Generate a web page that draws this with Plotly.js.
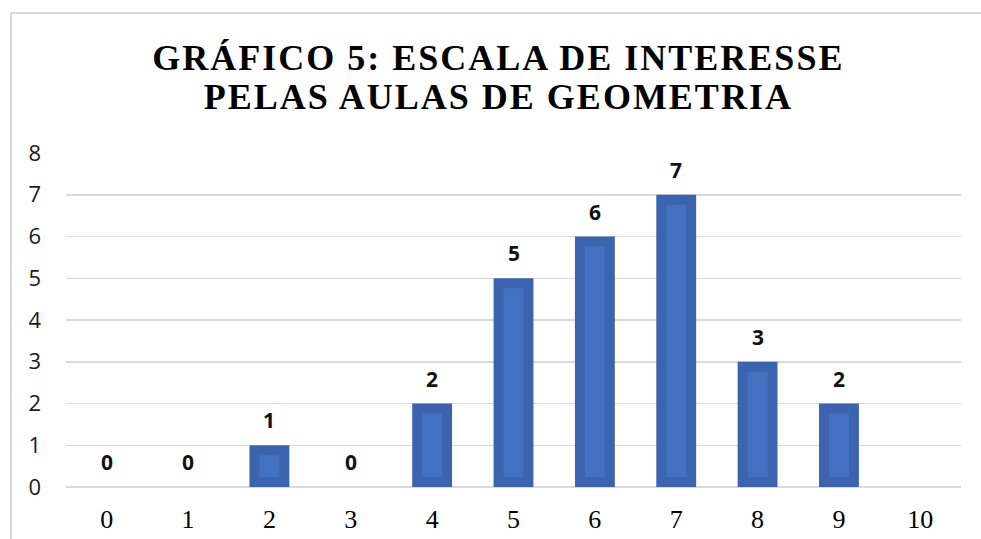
<!DOCTYPE html>
<html>
<head>
<meta charset="utf-8">
<script src="https://cdn.plot.ly/plotly-3.0.1.min.js"></script>
<style>
  html, body { margin: 0; padding: 0; background: #fff; }
  #wrap { position: relative; width: 981px; height: 539px; }
  #chart { position: absolute; left: 0; top: 0; width: 981px; height: 539px; }
  #frame { position: absolute; left: 10px; top: 12px; right: -2px; bottom: -2px;
           border-left: 2px solid #d9d9d9; border-top: 2px solid #d9d9d9; pointer-events: none; }
  .gtitle { letter-spacing: 2px; }
</style>
</head>
<body>
<div id="wrap">
  <div id="chart"></div>
  <div id="frame"></div>
</div>
<script>
const categories = ["0", "1", "2", "3", "4", "5", "6", "7", "8", "9", "10"];
const values = [0, 0, 1, 0, 2, 5, 6, 7, 3, 2, null];
const yTicks = [0, 1, 2, 3, 4, 5, 6, 7, 8];
const titleText = "GRÁFICO 5: ESCALA DE INTERESSE<br>PELAS AULAS DE GEOMETRIA";

const inset = 0.24; // inner highlight inset (style)
const outer = {
  type: "bar", x: categories, y: values, width: 0.49,
  marker: { color: "#3c64ae" }, hoverinfo: "skip", showlegend: false
};
const inner = {
  type: "bar", x: categories,
  y: values.map(v => (v && v > 0) ? v - 2 * inset : null),
  base: inset, width: 0.245,
  marker: { color: "#4371c1" }, hoverinfo: "skip", showlegend: false
};

const annotations = categories.map((c, i) => values[i] === null ? null : ({
  x: c, y: values[i], xref: "x", yref: "y", text: String(values[i]),
  showarrow: false, yanchor: "middle", yshift: 25,
  font: { family: "Open Sans, sans-serif", size: 21, color: "#111", weight: "bold" }
})).filter(a => a);

const layout = {
  width: 981, height: 539,
  margin: { l: 66, r: 20, t: 153, b: 52 },
  paper_bgcolor: "#fff", plot_bgcolor: "#fff",
  barmode: "overlay",
  title: {
    text: "<b>" + titleText + "</b>",
    x: 0.508, xref: "container", xanchor: "center",
    y: 0.871, yref: "container", yanchor: "top",
    font: { family: "Liberation Serif, Times New Roman, serif", size: 36, color: "#000" }
  },
  xaxis: {
    type: "category", range: [-0.5, 10.5], showgrid: false, zeroline: false,
    showline: false, ticks: "", ticklabelstandoff: 14,
    tickfont: { family: "Liberation Serif, Times New Roman, serif", size: 26, color: "#000" },
    fixedrange: true
  },
  yaxis: {
    range: [0, 8], tickvals: yTicks, ticktext: yTicks.map(String),
    showgrid: true, gridcolor: "#d9d9d9", gridwidth: 1.5,
    zeroline: true, zerolinecolor: "#d9d9d9", zerolinewidth: 1.5,
    showline: false, ticks: "", ticklabelstandoff: 24,
    tickfont: { family: "Open Sans, sans-serif", size: 22, color: "#1a1a1a" },
    fixedrange: true
  },
  annotations: annotations
};

Plotly.newPlot("chart", [outer, inner], layout, { staticPlot: true, displayModeBar: false }).then(() => {
  // tighter line spacing for the two-line title, as in the original
  document.querySelectorAll(".gtitle tspan.line").forEach((t, i) => {
    if (i > 0) t.setAttribute("dy", "1.09em");
  });
});
</script>
</body>
</html>
